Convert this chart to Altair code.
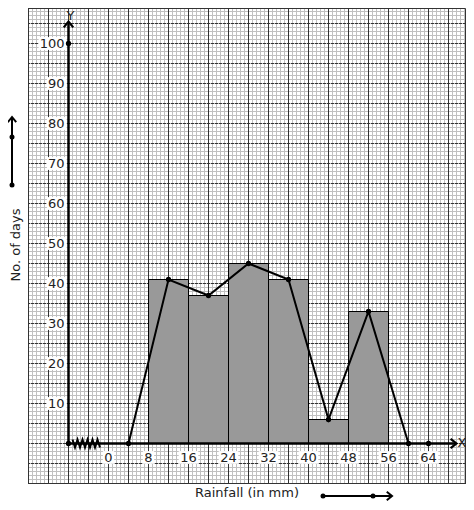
import altair as alt
import numpy as np
import pandas as pd

# ---- data ----
bin_start = [8, 16, 24, 32, 40, 48]
bin_end = [16, 24, 32, 40, 48, 56]
days = [41, 37, 45, 41, 6, 33]
poly_x = [4, 12, 20, 28, 36, 44, 52, 60]
poly_y = [0, 41, 37, 45, 41, 6, 33, 0]
x_tick_labels = [0, 8, 16, 24, 32, 40, 48, 56, 64]
y_tick_labels = [10, 20, 30, 40, 50, 60, 70, 80, 90, 100]
axis_dot_x = [-8, 64, -8]
axis_dot_y = [0, 0, 100]

# half-pixel shifted domains so 1px grid lines render crisp
X0, X1 = -16.1, 71.5
Y0, Y1 = -10.125, 108.875
W = round((X1 - X0) * 5)
H = round((Y1 - Y0) * 4)
xs = alt.Scale(domain=[X0, X1], nice=False, zero=False)
ys = alt.Scale(domain=[Y0, Y1], nice=False, zero=False)
FONT = "DejaVu Sans"
one = pd.DataFrame({"a": [0]})

def X(f):
    return alt.X(f, type="quantitative", scale=xs, axis=None)

def Yc(f):
    return alt.Y(f, type="quantitative", scale=ys, axis=None)

# ---- graph paper ----
minor_x = pd.DataFrame({"gx": np.arange(-16, X1, 0.8)})
minor_y = pd.DataFrame({"gy": np.arange(-10, Y1, 1.0)})
major_x = pd.DataFrame({"gx": np.arange(-16, X1, 4.0)})
major_y = pd.DataFrame({"gy": np.arange(-10, Y1, 5.0)})

g1 = alt.Chart(minor_x).mark_rule(color="#c0c0c0", strokeWidth=1).encode(x=X("gx"))
g2 = alt.Chart(minor_y).mark_rule(color="#c0c0c0", strokeWidth=1).encode(y=Yc("gy"))
g3 = alt.Chart(major_x).mark_rule(color="#333333", strokeWidth=1).encode(x=X("gx"))
g4 = alt.Chart(major_y).mark_rule(color="#333333", strokeWidth=1, strokeDash=[3, 1]).encode(y=Yc("gy"))
border = alt.Chart(one).mark_rect(fill=None, stroke="#333", strokeWidth=1).encode(
    x=alt.value(0.5), x2=alt.value(W - 0.5), y=alt.value(0.5), y2=alt.value(H - 0.5))

# ---- histogram ----
hist = pd.DataFrame({"s": bin_start, "e": bin_end, "d": days, "z": [0] * len(days)})
bars = alt.Chart(hist).mark_rect(fill="#999999", stroke="#000", strokeWidth=1).encode(
    x=X("s"), x2="e", y=Yc("z"), y2="d")

# ---- axes ----
xaxis = alt.Chart(one).mark_rule(color="#000", strokeWidth=2.5).encode(
    x=alt.datum(-8, scale=xs, axis=None), x2=alt.datum(69.4), y=alt.datum(0, scale=ys, axis=None))
yaxis = alt.Chart(one).mark_rule(color="#000", strokeWidth=2.5).encode(
    y=alt.datum(0, scale=ys, axis=None), y2=alt.datum(105.3), x=alt.datum(-8, scale=xs, axis=None))
arrow_r = "M-1,-0.8L0,0L-1,0.8"
arrow_u = "M-0.8,1L0,0L0.8,1"
xarrow = alt.Chart(one).mark_point(shape=arrow_r, filled=False, stroke="#000", strokeWidth=2.2, size=140, opacity=1).encode(
    x=alt.datum(69.6, scale=xs, axis=None), y=alt.datum(0, scale=ys, axis=None))
yarrow = alt.Chart(one).mark_point(shape=arrow_u, filled=False, stroke="#000", strokeWidth=2.2, size=140, opacity=1).encode(
    x=alt.datum(-8, scale=xs, axis=None), y=alt.datum(105.5, scale=ys, axis=None))
xlab = alt.Chart(one).mark_text(text="X", font=FONT, fontSize=13, color="#222", align="left", baseline="middle").encode(
    x=alt.datum(69.8, scale=xs, axis=None), y=alt.datum(0.2, scale=ys, axis=None))
ylab = alt.Chart(one).mark_text(text="Y", font=FONT, fontSize=13, color="#222", align="center", baseline="middle").encode(
    x=alt.datum(-7.6, scale=xs, axis=None), y=alt.datum(106.9, scale=ys, axis=None))

# zigzag break mark on x axis
zz = pd.DataFrame({"zx": [-7.2 + 0.5 * k for k in range(12)],
                   "zy": [(-1) ** k * 1.0 for k in range(12)]})
zig = alt.Chart(zz).mark_line(color="#000", strokeWidth=2).encode(x=X("zx"), y=Yc("zy"), order="zx")

# ---- tick labels with white boxes ----
xl = pd.DataFrame({"v": x_tick_labels, "t": [str(v) for v in x_tick_labels]})
xl["w"] = (xl["t"].str.len() * 8.3 + 3) / 5 / 2
xl["l"] = xl["v"] - xl["w"]
xl["r"] = xl["v"] + xl["w"]
xl["yb"] = -3.5 - 1.6
xl["yt"] = -3.5 + 1.6
xl["yc"] = -3.5
xbox = alt.Chart(xl).mark_rect(fill="white").encode(x=X("l"), x2="r", y=Yc("yb"), y2="yt")
xtxt = alt.Chart(xl).mark_text(font=FONT, fontSize=13, color="#222", baseline="middle").encode(
    x=X("v"), y=Yc("yc"), text="t:N")

yl = pd.DataFrame({"v": y_tick_labels, "t": [str(v) for v in y_tick_labels]})
yl["r"] = -8.4
yl["l"] = -8.4 - (yl["t"].str.len() * 8.3 + 3) / 5
yl["xt"] = -8.8
yl["yb"] = yl["v"] - 1.6
yl["yt"] = yl["v"] + 1.6
ybox = alt.Chart(yl).mark_rect(fill="white").encode(x=X("l"), x2="r", y=Yc("yb"), y2="yt")
ytxt = alt.Chart(yl).mark_text(font=FONT, fontSize=13, color="#222", align="right", baseline="middle").encode(
    x=X("xt"), y=Yc("v"), text="t:N")

# ---- frequency polygon ----
poly = pd.DataFrame({"px": poly_x, "py": poly_y})
line = alt.Chart(poly).mark_line(color="#000", strokeWidth=2).encode(x=X("px"), y=Yc("py"), order="px")
pts = alt.Chart(poly).mark_point(filled=True, color="#000", size=28, opacity=1).encode(x=X("px"), y=Yc("py"))
adots = alt.Chart(pd.DataFrame({"ax": axis_dot_x, "ay": axis_dot_y})).mark_point(
    filled=True, color="#000", size=28, opacity=1).encode(x=X("ax"), y=Yc("ay"))

# ---- titles and side arrows (pixel positions relative to plot origin) ----
ytitle = alt.Chart(one).mark_text(text="No. of days", font=FONT, fontSize=13, color="#222", angle=270,
                                   align="center", baseline="middle").encode(x=alt.value(-12.5), y=alt.value(237))
xtitle = alt.Chart(one).mark_text(text="Rainfall (in mm)", font=FONT, fontSize=13, color="#222",
                                   align="center", baseline="middle").encode(x=alt.value(219), y=alt.value(485))
larrow = alt.Chart(one).mark_rule(color="#000", strokeWidth=2).encode(x=alt.value(-16), y=alt.value(110), y2=alt.value(177))
larrow_h = alt.Chart(one).mark_point(shape=arrow_u, filled=False, stroke="#000", strokeWidth=2, size=110, opacity=1).encode(
    x=alt.value(-16), y=alt.value(109))
ldots = alt.Chart(pd.DataFrame({"py": [177, 129]})).mark_point(filled=True, color="#000", size=25, opacity=1).encode(
    x=alt.value(-16), y=alt.Y("py:Q", scale=None, axis=None))
barrow = alt.Chart(one).mark_rule(color="#000", strokeWidth=2).encode(x=alt.value(295), x2=alt.value(363), y=alt.value(488))
barrow_h = alt.Chart(one).mark_point(shape=arrow_r, filled=False, stroke="#000", strokeWidth=2, size=110, opacity=1).encode(
    x=alt.value(364), y=alt.value(488))
bdots = alt.Chart(pd.DataFrame({"px": [295, 345]})).mark_point(filled=True, color="#000", size=25, opacity=1).encode(
    x=alt.X("px:Q", scale=None, axis=None), y=alt.value(488))

chart = alt.layer(
    g1, g2, g3, g4, border, bars, xbox, xtxt, ybox, ytxt,
    xaxis, yaxis, zig, line, pts, adots, xarrow, yarrow, xlab, ylab,
    ytitle, xtitle, larrow, larrow_h, ldots, barrow, barrow_h, bdots,
).properties(
    width=W, height=H,
    autosize=alt.AutoSizeParams(type="none"),
    padding={"left": 20, "top": 0, "right": 0, "bottom": 17},
    background="white",
).configure_view(stroke=None)

chart.save("out.html", embed_options={"renderer": "svg", "actions": False})
